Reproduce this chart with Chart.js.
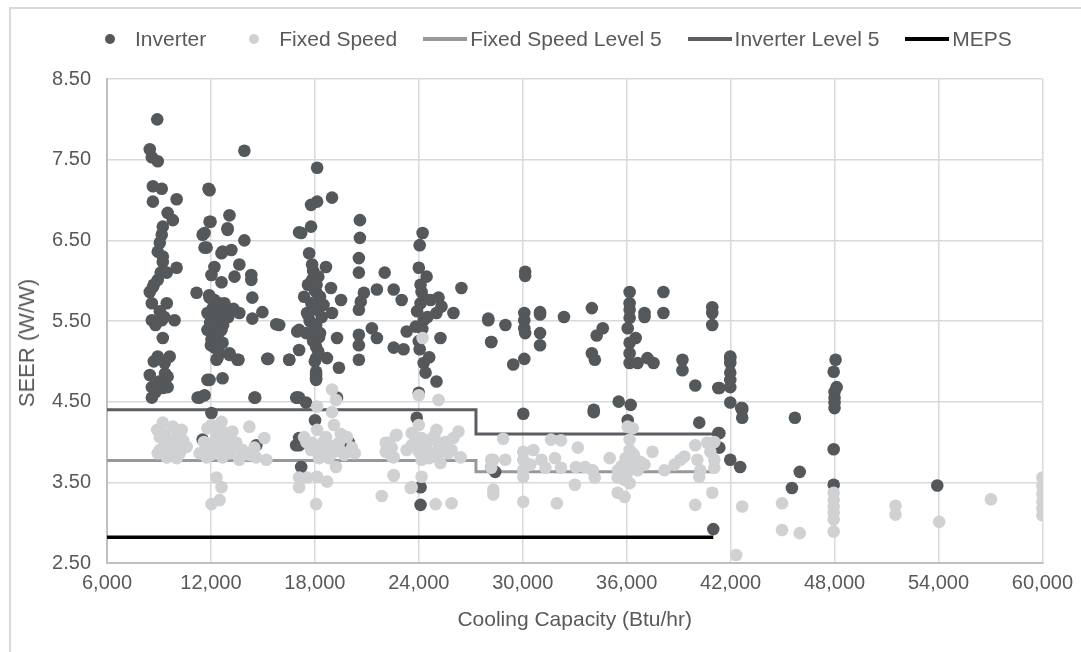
<!DOCTYPE html>
<html>
<head>
<meta charset="utf-8">
<script src="https://cdn.jsdelivr.net/npm/chart.js@4.4.1/dist/chart.umd.min.js"></script>
<style>
  body { margin: 0; background: #ffffff; }
  #wrap { position: relative; width: 1081px; height: 652px; overflow: hidden; background: #fff;
          font-family: "Liberation Sans", Arial, sans-serif; }
  #frame { position: absolute; left: 9px; top: 7px; width: 1200px; height: 800px;
           border: 2px solid #d9d9d9; box-sizing: border-box; }
  #chart { position: absolute; left: 0; top: 0; }
  #legend { position: absolute; top: 27px; left: 88px; height: 24px; display: flex; align-items: center;
            color: #595959; font-size: 21px; white-space: nowrap; }
  .item { display: flex; align-items: center; margin-right: 26px; }
  .mk { width: 44px; height: 24px; position: relative; margin-right: 3px; }
  .dot { position: absolute; left: 17px; top: 7px; width: 10px; height: 10px; border-radius: 50%; }
  .ln { position: absolute; left: 0; top: 10px; width: 44px; height: 4px; }
  #ytitle { position: absolute; left: 27px; top: 343px; transform: translate(-50%, -50%) rotate(-90deg);
            color: #595959; font-size: 22px; white-space: nowrap; }
</style>
</head>
<body>
<div id="wrap">
  <div id="frame"></div>
  <canvas id="chart" width="1081" height="652"></canvas>
  <div id="legend"></div>
  <div id="ytitle"></div>
</div>
<script>
// ---------------- data ----------------
const seriesNames = ["Inverter", "Fixed Speed", "Fixed Speed Level 5", "Inverter Level 5", "MEPS"];
const xTitle = "Cooling Capacity (Btu/hr)";
const yTitle = "SEER (W/W)";

const xTicks = [6000, 12000, 18000, 24000, 30000, 36000, 42000, 48000, 54000, 60000];
const yTicks = [2.5, 3.5, 4.5, 5.5, 6.5, 7.5, 8.5];

// Inverter units: cooling capacity (Btu/hr) and SEER (W/W)
const inverterCap = [
  8900, 8470, 8590, 8930, 8650, 9160, 8650, 10020, 9500, 9800, 9220, 9160, 9050, 8930, 9220, 9220, 10020, 9450,
  8930, 8650, 8470, 8590, 9450, 8590, 9160, 9900, 9220, 8930, 9620, 9330, 8470, 9500, 8590, 9220, 8590, 9500,
  8700, 9050, 8800, 9300, 9000, 8800, 9350, 8700, 9100,
  13930, 11860, 13070, 12960, 11920, 11520, 13930, 11630, 12610, 13180, 13640, 12200, 12030, 13360, 12610, 14330,
  11170, 11920, 12780, 13640, 11800, 12380, 11800, 12610, 12030, 12200, 12380, 13070, 13530, 11800, 12670, 11630,
  11230, 12030, 11920, 11980, 11630, 12960, 11750, 12670, 14330, 14390, 14970, 14390, 15770, 13070, 12670, 13590,
  12320, 15310, 16520, 11920, 14560, 11350, 17090, 16980, 16980,
  11900, 12200, 12500, 12800, 12100, 12400, 12000, 12300, 12700, 13000, 12100, 12450, 12000, 12300, 12900, 13300,
  12600, 11950, 12200, 12500, 14510, 15250, 14620, 11520, 16920,
  18130, 17780, 18130, 18990, 20600, 20600, 17210, 17780, 24220, 24050, 17670, 17840, 18640, 20540, 20540, 22030,
  24000, 24450, 26460, 17840, 18930, 19510, 21580, 22550, 23010, 20830, 20650, 20540, 17380, 18070, 24160, 24100,
  24680, 25140, 25020, 26000, 25310, 28010, 28180, 17550, 18130, 18990, 15940, 17090, 18070, 18240, 19280, 21290,
  21580, 23300, 23820, 24280, 25250, 17090, 18070, 20540, 20540, 22550, 23120, 24050, 16520, 18070, 18700, 20540,
  19390, 24280, 24390, 25020, 18070, 18070,
  17900, 18200, 17600, 18000, 18300, 17800, 18100, 18400, 17700, 18000, 18300, 17900, 18200, 18000, 17600, 18500,
  18100, 17500,
  24100, 24300, 23900, 24500, 24200, 24000, 24600,
  17090, 17490, 18070, 18070, 19280, 18010, 17090, 17090, 17210, 19970, 24000, 23880, 24100, 24100, 28180, 16920,
  30140, 30140, 28010, 29000, 30090, 30090, 30090, 30140, 31000, 31000, 31000, 31000, 28180, 32380, 29450, 30090,
  33990, 34620, 34270, 33990, 34160, 36170, 36170, 36170, 36170, 36060, 36520, 36170, 36170, 36170, 36630, 37030,
  37030, 37200, 37550, 38120, 38120, 39220, 39220, 39960, 40940, 40940, 40940, 41290, 41980, 41980, 41980, 41980,
  41980, 41980, 42670, 35540, 36230, 34100,
  30030, 34100, 36060, 40190, 41290, 41350, 41980, 42550, 42670, 42670, 41000, 28410,
  41980, 41350, 42610, 45710, 41350, 45990, 45540, 48060, 47950, 48120, 48000, 48000, 48000, 48000, 47950, 47950,
  53930
];
const inverterSeer = [
  8.00, 7.63, 7.53, 7.48, 7.17, 7.14, 6.98, 7.01, 6.84, 6.75, 6.67, 6.57, 6.47, 6.36, 6.30, 6.23, 6.16, 6.10,
  6.01, 5.92, 5.86, 5.72, 5.72, 5.51, 5.51, 5.51, 5.29, 5.06, 5.06, 4.98, 4.83, 4.81, 4.68, 4.67, 4.55, 4.68,
  5.95, 5.62, 5.45, 5.55, 4.75, 4.62, 4.85, 5.00, 6.10,
  7.61, 7.14, 6.81, 6.65, 6.73, 6.57, 6.50, 6.41, 6.34, 6.38, 6.20, 6.17, 6.07, 6.05, 5.98, 6.01,
  5.85, 5.79, 5.72, 5.60, 5.60, 5.51, 5.39, 5.39, 5.27, 5.17, 5.04, 5.08, 5.02, 4.77, 4.79, 4.58,
  4.55, 4.36, 7.12, 6.73, 6.59, 6.63, 6.41, 6.36, 6.07, 5.79, 5.61, 5.53, 5.46, 5.10, 5.23, 5.02,
  5.02, 5.03, 5.02, 4.77, 4.55, 4.55, 6.60, 5.37, 4.55,
  5.82, 5.76, 5.72, 5.66, 5.66, 5.60, 5.55, 5.47, 5.45, 5.55, 5.42, 5.35, 5.20, 5.28, 5.62, 5.65,
  5.52, 5.48, 5.33, 5.10, 4.55, 5.03, 3.96, 4.03, 3.96,
  7.40, 6.94, 6.98, 7.03, 6.75, 6.53, 6.59, 6.67, 6.59, 6.44, 6.34, 6.20, 6.17, 6.28, 6.10, 6.10,
  6.16, 6.05, 5.91, 6.01, 5.91, 5.76, 5.89, 5.89, 5.76, 5.85, 5.74, 5.64, 5.80, 5.86, 5.86, 5.72,
  5.76, 5.79, 5.60, 5.60, 5.68, 5.51, 5.24, 5.60, 5.64, 5.60, 5.45, 5.39, 5.45, 5.30, 5.29, 5.41,
  5.29, 5.37, 5.43, 5.51, 5.29, 5.14, 5.18, 5.33, 5.20, 5.17, 5.15, 5.15, 5.02, 5.04, 5.04, 5.02,
  4.92, 4.98, 4.86, 4.75, 4.87, 4.79,
  6.12, 6.05, 5.95, 5.88, 5.80, 5.72, 5.68, 5.55, 5.50, 5.40, 5.35, 5.25, 5.12, 5.00, 5.58, 5.70,
  5.95, 5.35,
  5.95, 5.78, 5.62, 5.55, 5.40, 5.25, 5.05,
  4.55, 4.49, 4.77, 4.83, 4.55, 4.27, 4.05, 3.96, 3.69, 3.99, 4.61, 4.30, 3.44, 3.22, 3.68, 4.55,
  6.11, 6.06, 5.53, 5.45, 5.60, 5.51, 5.41, 5.35, 5.61, 5.58, 5.35, 5.20, 5.24, 5.55, 4.96, 5.03,
  5.66, 5.41, 5.32, 5.10, 5.02, 5.86, 5.72, 5.64, 5.54, 5.41, 5.29, 5.23, 5.10, 4.98, 4.98, 5.60,
  5.55, 5.04, 4.98, 5.86, 5.60, 5.02, 4.89, 4.70, 5.67, 5.60, 5.45, 4.67, 5.04, 4.98, 4.86, 4.77,
  4.68, 4.49, 4.42, 4.50, 4.46, 4.40,
  4.35, 4.37, 4.27, 4.24, 4.11, 3.93, 3.78, 3.69, 4.40, 4.30, 2.92, 3.63,
  5.06, 4.67, 4.42, 4.30, 4.11, 3.63, 3.43, 5.02, 4.87, 4.68, 4.62, 4.55, 4.49, 4.42, 3.91, 3.47,
  3.46
];

// Fixed speed units
const fixedCap = [
  9220, 9800, 10310, 9050, 9740, 10370, 9050, 9620, 10080, 10600, 8930, 9450, 10020, 9330, 10020,
  9300, 9900, 10200, 9500, 8900, 9700, 10400,
  12610, 11800, 12030, 14220, 15080, 15200, 11350, 11750, 12320, 12900, 13240, 13470, 13820, 14220, 13070, 12670,
  12090, 12500, 14510, 12320, 12610, 12500, 12030, 13640, 11750,
  12200, 12800, 13300, 12000, 12600, 13100, 11600, 13900, 14600, 12400,
  18990, 19220, 18130, 18990, 19100, 18130, 17380, 19850, 17840, 18640, 19390, 20140, 17780, 18410, 18990, 19560,
  18240, 19220, 17090, 17090, 17550, 18130, 18700, 18070, 21860, 22550, 22090, 22670, 22440, 22440, 23530,
  17900, 18500, 19000, 19500, 18200, 18800, 19700, 17500, 20300,
  24000, 25140, 24000, 25020, 26290, 22720, 23590, 24160, 24680, 25540, 22270, 23590, 24390, 25140, 25890, 22090,
  24000, 24740, 26410, 22550, 24160, 25250, 28180, 22550, 24160, 23590, 24970, 25890, 28300, 28300, 24220,
  23800, 24400, 24900, 25300, 25700, 24600, 23300, 26000, 24200, 25100,
  28870, 28300, 28990, 28180, 30030, 30030, 30440, 30030, 30030, 30610, 31080, 31310, 30030, 31630, 32210, 31860,
  32210, 31970, 33180, 33070, 33590, 34040, 34160, 33010, 35020, 35480, 35480, 35880, 36060, 36350, 36170, 36170,
  35940, 36520, 36170, 36630, 35880, 36170, 37490, 37030, 38180, 38760, 39100, 39330, 39960, 40080, 40250, 40190,
  40650, 41060, 40830, 41060, 41060, 39960, 40940, 42670, 42320,
  35700, 36400, 36000, 36800, 35500,
  44970, 44970, 45990, 47950, 47950, 47950, 47950, 47950, 47950, 51520, 51520, 54040, 57030,
  60000, 60000, 60000, 60000, 60000, 60000
];
const fixedSeer = [
  4.24, 4.19, 4.15, 4.06, 4.03, 3.99, 3.90, 3.90, 3.90, 3.94, 3.86, 3.81, 3.80, 3.99, 4.06,
  4.10, 4.00, 3.86, 3.95, 4.15, 3.84, 4.02,
  4.25, 4.17, 4.21, 4.19, 4.05, 3.78, 3.86, 3.94, 4.06, 4.11, 4.13, 3.99, 3.90, 3.84, 3.86, 3.81,
  3.90, 3.94, 3.93, 3.56, 3.44, 3.28, 3.23, 3.78, 3.81,
  4.00, 3.97, 3.92, 3.84, 3.88, 4.02, 4.00, 3.86, 3.81, 4.12,
  4.65, 4.52, 4.44, 4.37, 4.21, 4.15, 4.06, 4.06, 3.99, 4.06, 3.99, 3.93, 3.90, 3.90, 3.86, 3.88,
  3.80, 3.69, 3.56, 3.44, 3.56, 3.57, 3.51, 3.23, 3.33, 3.58, 3.99, 4.08, 3.93, 3.82, 3.43,
  3.95, 4.00, 3.95, 4.10, 3.85, 3.80, 3.84, 4.00, 3.86,
  4.58, 4.52, 4.21, 4.15, 4.13, 4.09, 4.11, 4.05, 4.03, 4.00, 3.99, 3.96, 3.94, 3.93, 3.90, 3.88,
  3.88, 3.86, 3.81, 3.81, 3.78, 3.74, 3.78, 3.59, 3.57, 3.44, 3.23, 3.24, 3.41, 3.35, 5.29,
  4.00, 3.95, 4.08, 3.98, 3.86, 3.80, 3.90, 4.05, 3.92, 3.85,
  4.04, 3.78, 3.78, 3.68, 3.88, 3.78, 3.72, 3.65, 3.57, 3.90, 3.78, 3.68, 3.26, 4.03, 4.02, 3.80,
  3.68, 3.24, 3.93, 3.69, 3.69, 3.65, 3.56, 3.47, 3.80, 3.56, 3.37, 3.32, 4.19, 4.17, 4.03, 3.90,
  3.80, 3.78, 3.69, 3.65, 3.53, 3.49, 3.88, 3.72, 3.65, 3.72, 3.78, 3.82, 3.96, 3.78, 3.65, 3.57,
  3.99, 4.00, 3.88, 3.78, 3.68, 3.22, 3.37, 3.20, 2.60,
  3.70, 3.85, 3.60, 3.75, 3.65,
  3.24, 2.91, 2.87, 3.37, 3.28, 3.20, 3.12, 3.04, 2.89, 3.21, 3.10, 3.01, 3.29,
  3.56, 3.46, 3.36, 3.26, 3.17, 3.09
];

// Efficiency level lines (stepped)
const fixedLevel5Cap  = [6000, 27300, 27300, 41000];
const fixedLevel5Seer = [3.77, 3.77, 3.63, 3.63];
const invLevel5Cap    = [6000, 27300, 27300, 41000];
const invLevel5Seer   = [4.40, 4.40, 4.10, 4.10];
const mepsCap         = [6000, 41000];
const mepsSeer        = [2.82, 2.82];

// ---------------- styles ----------------
const colInverter = '#55585b';
const colFixed = '#d0d1d3';
const colFixedL5 = '#97989c';
const colInvL5 = '#5b5e62';
const colMeps = '#000000';
const textCol = '#595959';
const FONT = '"Liberation Sans", Arial, sans-serif';

const toPts = (xs, ys) => xs.map((x, i) => ({ x: x, y: ys[i] }));

const PLOT = { left: 107, right: 1046, top: 79, bottom: 563 };
const W = 1081, H = 652;
const padLeft = 8, padBottom = 10;

const ctx = document.getElementById('chart').getContext('2d');
new Chart(ctx, {
  type: 'scatter',
  data: {
    datasets: [
      { label: seriesNames[0], data: toPts(inverterCap, inverterSeer), backgroundColor: colInverter,
        borderWidth: 0, pointRadius: 6.3, order: 2 },
      { label: seriesNames[1], data: toPts(fixedCap, fixedSeer), backgroundColor: colFixed,
        borderWidth: 0, pointRadius: 6.3, order: 1 },
      { label: seriesNames[2], data: toPts(fixedLevel5Cap, fixedLevel5Seer), showLine: true, borderColor: colFixedL5,
        borderWidth: 3, pointRadius: 0, fill: false, tension: 0, order: 5 },
      { label: seriesNames[3], data: toPts(invLevel5Cap, invLevel5Seer), showLine: true, borderColor: colInvL5,
        borderWidth: 3, pointRadius: 0, fill: false, tension: 0, order: 4 },
      { label: seriesNames[4], data: toPts(mepsCap, mepsSeer), showLine: true, borderColor: colMeps,
        borderWidth: 3.5, pointRadius: 0, fill: false, tension: 0, order: 3 }
    ]
  },
  options: {
    responsive: false,
    animation: false,
    events: [],
    layout: { padding: { top: PLOT.top, right: W - PLOT.right, left: padLeft, bottom: padBottom } },
    plugins: { legend: { display: false }, tooltip: { enabled: false } },
    scales: {
      x: {
        type: 'linear', min: xTicks[0], max: xTicks[xTicks.length - 1],
        afterBuildTicks: (s) => { s.ticks = xTicks.map(v => ({ value: v })); },
        afterFit: (s) => { s.height = H - padBottom - PLOT.bottom; },
        grid: { color: '#d9d9d9', lineWidth: 1.5, drawTicks: false },
        border: { color: '#bfbfbf', width: 2 },
        ticks: { color: textCol, font: { family: FONT, size: 20 }, padding: 8,
                 maxRotation: 0, callback: (v) => Number(v).toLocaleString('en-US') },
        title: { display: true, text: xTitle, color: textCol,
                 font: { family: FONT, size: 21 }, padding: { top: 0, bottom: 9 } }
      },
      y: {
        type: 'linear', min: yTicks[0], max: yTicks[yTicks.length - 1],
        afterBuildTicks: (s) => { s.ticks = yTicks.map(v => ({ value: v })); },
        afterFit: (s) => { s.width = PLOT.left - padLeft; },
        grid: { color: '#d9d9d9', lineWidth: 1.5, drawTicks: false },
        border: { color: '#bfbfbf', width: 2 },
        ticks: { color: textCol, font: { family: FONT, size: 20 }, padding: 16,
                 callback: (v) => Number(v).toFixed(2) },
        title: { display: false }
      }
    }
  }
});

// ---------------- y title and legend (HTML text) ----------------
document.getElementById('ytitle').textContent = yTitle;

const legendStyles = [
  { kind: 'dot', color: colInverter },
  { kind: 'dot', color: colFixed },
  { kind: 'line', color: colFixedL5 },
  { kind: 'line', color: colInvL5 },
  { kind: 'line', color: colMeps }
];
const legend = document.getElementById('legend');
seriesNames.forEach((name, i) => {
  const item = document.createElement('div');
  item.className = 'item';
  const mk = document.createElement('div');
  mk.className = 'mk';
  const sym = document.createElement('div');
  sym.className = legendStyles[i].kind === 'dot' ? 'dot' : 'ln';
  sym.style.background = legendStyles[i].color;
  mk.appendChild(sym);
  const tx = document.createElement('span');
  tx.textContent = name;
  item.appendChild(mk);
  item.appendChild(tx);
  legend.appendChild(item);
});
</script>
</body>
</html>
